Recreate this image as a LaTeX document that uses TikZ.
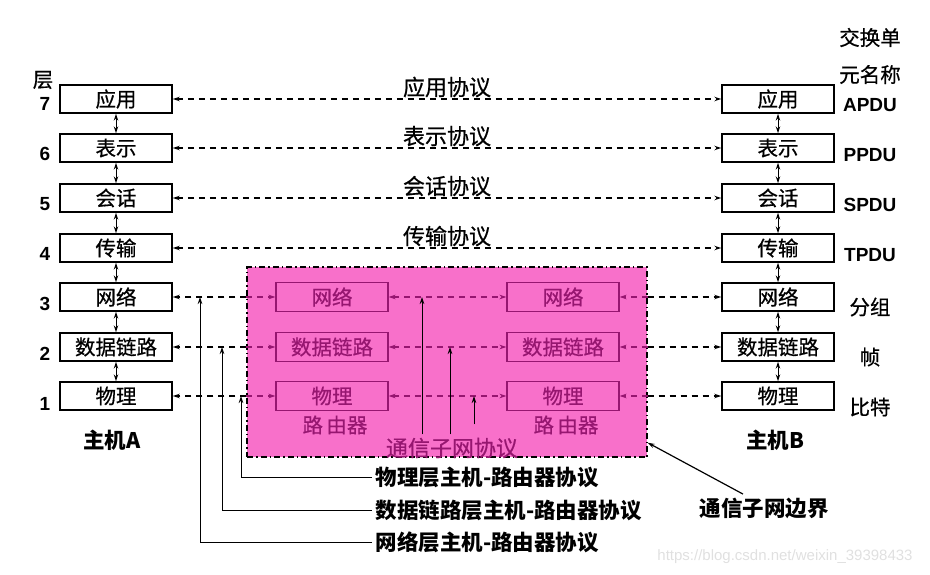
\documentclass[tikz,border=0pt]{standalone}
\usepackage{fontspec}
\setmainfont{Liberation Sans}
\newfontfamily\cjk[FakeBold=0.6]{Noto Sans CJK SC}
\newfontfamily\cjkbold{Noto Sans CJK SC}
\usetikzlibrary{positioning,calc,arrows.meta}

\definecolor{subnetpink}{RGB}{248,112,202}
\definecolor{routerpurple}{RGB}{150,22,112}

\begin{document}
\begin{tikzpicture}[
    x=1pt, y=-1pt,
    host/.style={draw, line width=1.4pt, minimum width=112pt, minimum height=28pt, inner sep=0pt, font=\cjk\fontsize{20.5}{22}\selectfont},
    router/.style={draw=routerpurple, line width=1.1pt, minimum width=112pt, minimum height=29pt, inner sep=0pt, text=routerpurple, font=\cjk\fontsize{20.5}{22}\selectfont},
    lbl/.style={font=\cjk\fontsize{20.5}{22}\selectfont},
    plbl/.style={font=\cjk\fontsize{22}{24}\selectfont},
    blbl/.style={font=\cjkbold\bfseries\fontsize{21.5}{23}\selectfont},
    num/.style={font=\bfseries\fontsize{19}{21}\selectfont},
    hdash/.style={dash pattern=on 6pt off 5pt, line width=1.4pt},
    rdash/.style={dash pattern=on 6pt off 5pt, line width=1.1pt, draw=routerpurple},
    updown/.style={<->, line width=1pt},
    thinarr/.style={->, line width=0.9pt},
    >={Stealth[length=7pt, width=4.5pt]}
]
    \useasboundingbox (0,0) rectangle (930,575);

    % Communication subnet
    \node[draw, line width=1.4pt, dash pattern=on 6pt off 3pt on 1.5pt off 3pt, fill=subnetpink,
          minimum width=400pt, minimum height=190pt, inner sep=0pt] (subnet) at (447,362) {};

    % Host A
    \node[host] (a7) at (116,99) {应用};
    \node[host] (a6) at (116,148) {表示};
    \node[host] (a5) at (116,198) {会话};
    \node[host] (a4) at (116,248) {传输};
    \node[host] (a3) at (116,297) {网络};
    \node[host] (a2) at (116,347) {数据链路};
    \node[host] (a1) at (116,396) {物理};
    \node[blbl] (hosta) at (112,440) {主机A};

    % Host B
    \node[host] (b7) at (778,99) {应用};
    \node[host] (b6) at (778,148) {表示};
    \node[host] (b5) at (778,198) {会话};
    \node[host] (b4) at (778,248) {传输};
    \node[host] (b3) at (778,297) {网络};
    \node[host] (b2) at (778,347) {数据链路};
    \node[host] (b1) at (778,396) {物理};
    \node[blbl] (hostb) at (775,440) {主机B};

    % Routers
    \node[router] (rl3) at (332,297) {网络};
    \node[router] (rl2) at (332,347) {数据链路};
    \node[router] (rl1) at (332,396) {物理};
    \node[lbl, text=routerpurple] (routerl) at (335,425) {路\,由器};
    \node[router] (rr3) at (563,297) {网络};
    \node[router] (rr2) at (563,347) {数据链路};
    \node[router] (rr1) at (563,396) {物理};
    \node[lbl, text=routerpurple] (routerr) at (566,425) {路\,由器};

    % Layer numbers
    \node[lbl] (layer) at (43,80) {层};
    \node[num] (n7) at (45,104) {7};
    \node[num] (n6) at (45,154) {6};
    \node[num] (n5) at (45,204) {5};
    \node[num] (n4) at (45,254) {4};
    \node[num] (n3) at (45,304) {3};
    \node[num] (n2) at (45,354) {2};
    \node[num] (n1) at (45,404) {1};

    % Data unit names
    \node[lbl, align=center, font=\cjk\fontsize{20.5}{37}\selectfont] (unitname) at (870,56) {交换单\\元名称};
    \node[num] (apdu) at (870,105) {APDU};
    \node[num] (ppdu) at (870,155) {PPDU};
    \node[num] (spdu) at (870,205) {SPDU};
    \node[num] (tpdu) at (870,255) {TPDU};
    \node[lbl] (packet) at (870,307) {分组};
    \node[lbl] (frame) at (870,357) {帧};
    \node[lbl] (bit) at (870,407) {比特};

    % Stack arrows
    \draw[updown] (a1) -- (a2);
    \draw[updown] (a2) -- (a3);
    \draw[updown] (a3) -- (a4);
    \draw[updown] (a4) -- (a5);
    \draw[updown] (a5) -- (a6);
    \draw[updown] (a6) -- (a7);
    \draw[updown] (b1) -- (b2);
    \draw[updown] (b2) -- (b3);
    \draw[updown] (b3) -- (b4);
    \draw[updown] (b4) -- (b5);
    \draw[updown] (b5) -- (b6);
    \draw[updown] (b6) -- (b7);

    % Peer protocols, end to end
    \draw[hdash, <->] (a7) -- node[plbl, above, inner sep=1pt] (appproto) {应用协议} (b7);
    \draw[hdash, <->] (a6) -- node[plbl, above, inner sep=1pt] (preproto) {表示协议} (b6);
    \draw[hdash, <->] (a5) -- node[plbl, above, inner sep=1pt] (sesproto) {会话协议} (b5);
    \draw[hdash, <->] (a4) -- node[plbl, above, inner sep=1pt] (traproto) {传输协议} (b4);

    % Host to router
    \draw[hdash, ->] (subnet.west |- a3) -- (a3);
    \draw[hdash, ->] (subnet.west |- a2) -- (a2);
    \draw[hdash, ->] (subnet.west |- a1) -- (a1);
    \draw[hdash, ->] (subnet.east |- b3) -- (b3);
    \draw[hdash, ->] (subnet.east |- b2) -- (b2);
    \draw[hdash, ->] (subnet.east |- b1) -- (b1);
    \draw[rdash, ->, routerpurple] (subnet.west |- rl3) -- (rl3);
    \draw[rdash, ->, routerpurple] (subnet.west |- rl2) -- (rl2);
    \draw[rdash, ->, routerpurple] (subnet.west |- rl1) -- (rl1);
    \draw[rdash, ->, routerpurple] (subnet.east |- rr3) -- (rr3);
    \draw[rdash, ->, routerpurple] (subnet.east |- rr2) -- (rr2);
    \draw[rdash, ->, routerpurple] (subnet.east |- rr1) -- (rr1);

    % Router to router
    \draw[rdash, <->, routerpurple] (rl3) -- (rr3);
    \draw[rdash, <->, routerpurple] (rl2) -- (rr2);
    \draw[rdash, <->, routerpurple] (rl1) -- (rr1);

    % Subnet protocol
    \node[plbl, text=routerpurple] (subproto) at (452,448) {通信子网协议};
    \draw[thinarr] (subproto.north -| 422,0) -- (422,0 |- rl3);
    \draw[thinarr] (subproto.north -| 450,0) -- (450,0 |- rl2);
    \draw[thinarr] ([yshift=10pt]subproto.north -| 474,0) -- (474,0 |- rl1);

    % Host-router protocols
    \node[blbl, anchor=west] (phyproto) at (372,477) {物理层主机-路由器协议};
    \node[blbl, anchor=west] (dlproto) at (372,510) {数据链路层主机-路由器协议};
    \node[blbl, anchor=west] (netproto) at (372,542) {网络层主机-路由器协议};
    \draw[thinarr] (phyproto.west) -| (241,0 |- a1);
    \draw[thinarr] (dlproto.west) -| (222,0 |- a2);
    \draw[thinarr] (netproto.west) -| (200,0 |- a3);

    % Subnet border
    \node[blbl] (border) at (764,508) {通信子网边界};
    \draw[thinarr, line width=1.2pt] ([xshift=-21pt]border.north) -- ([yshift=15pt]subnet.south east);

    \node[text=black!12, font=\fontsize{15}{17}\selectfont] (mark) at (785,557) {https://blog.csdn.net/weixin\_39398433};
\end{tikzpicture}
\end{document}
